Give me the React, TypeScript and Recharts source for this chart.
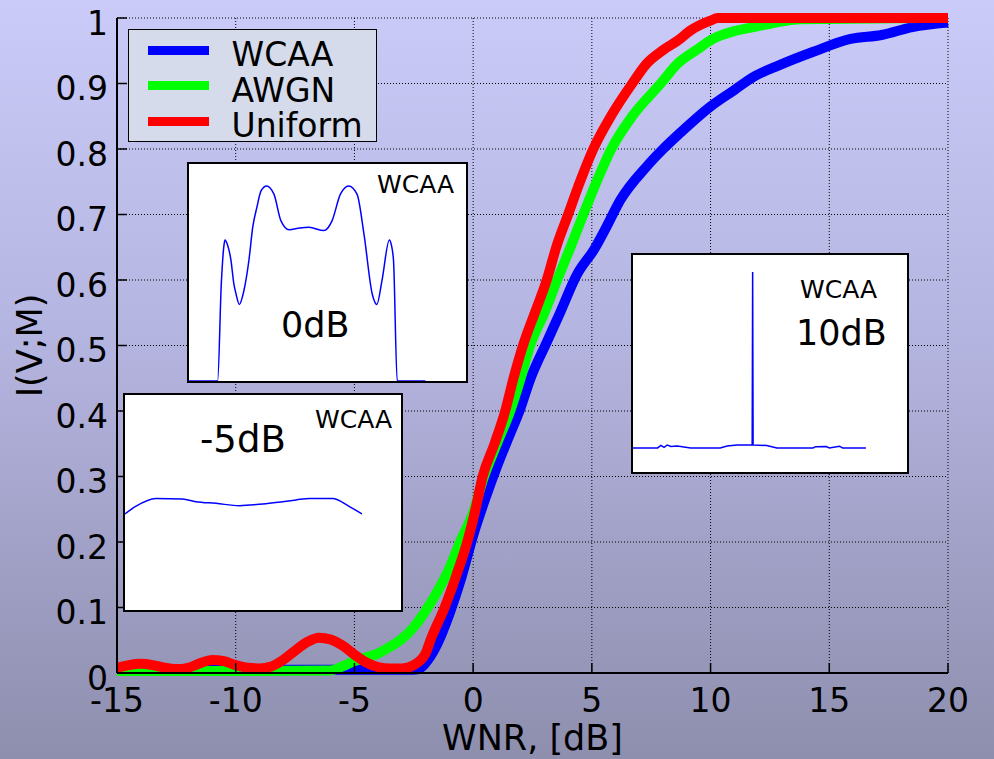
import { LineChart, Line, XAxis, YAxis, CartesianGrid } from "recharts";

const X_TICKS = [-15, -10, -5, 0, 5, 10, 15, 20];
const Y_TICKS = [0, 0.1, 0.2, 0.3, 0.4, 0.5, 0.6, 0.7, 0.8, 0.9, 1];

const WCAA_X = [-15, -14.5, -14, -13.5, -13, -12, -11.5, -11, -10.5, -10, -9, -5, -2.5, -2.2, -1.9, -1.5, -1, -0.5, 0, 0.5, 1, 1.5, 2, 2.4, 3.1, 3.6, 4.4, 5.1, 5.6, 6.2, 7.3, 8, 8.7, 10, 11, 11.8, 12.9, 14.3, 15.9, 17.2, 18.5, 20];
const WCAA_Y = [0.004, 0.006, 0.008, 0.006, 0.004, 0.004, 0.008, 0.012, 0.009, 0.005, 0.005, 0.005, 0.005, 0.008, 0.02, 0.045, 0.09, 0.145, 0.21, 0.265, 0.315, 0.36, 0.405, 0.448, 0.505, 0.545, 0.61, 0.647, 0.68, 0.722, 0.773, 0.8, 0.824, 0.865, 0.89, 0.91, 0.928, 0.948, 0.968, 0.974, 0.986, 0.993];

const AWGN_X = [-15, -10, -6, -5.5, -5, -4.5, -4, -3.5, -3, -2.5, -2, -1.5, -1, -0.55, 0, 0.42, 1, 1.56, 2, 2.4, 3, 3.54, 4.1, 4.64, 5.2, 5.82, 6.7, 7.9, 8.6, 9.44, 10.1, 11, 11.8, 12.6, 13.8, 20];
const AWGN_Y = [0.003, 0.003, 0.004, 0.01, 0.018, 0.024, 0.03, 0.04, 0.052, 0.07, 0.095, 0.125, 0.16, 0.2, 0.245, 0.296, 0.35, 0.4, 0.45, 0.5, 0.55, 0.6, 0.65, 0.7, 0.75, 0.8, 0.85, 0.9, 0.93, 0.952, 0.968, 0.98, 0.986, 0.992, 0.998, 1];

const UNIFORM_X = [-15, -14.5, -14, -13.5, -13, -12.5, -12, -11.5, -11, -10.5, -10, -9.5, -9, -8.5, -8, -7.5, -7, -6.5, -6, -5.5, -5, -4.5, -4, -3.5, -3, -2.5, -2, -1.8, -1.2, -0.7, -0.25, 0.1, 0.4, 0.9, 1.35, 1.7, 2.1, 2.6, 3.1, 3.5, 4, 4.5, 5.06, 5.8, 6.7, 7.3, 8, 8.6, 9.2, 10, 10.3, 20];
const UNIFORM_Y = [0.008, 0.012, 0.014, 0.012, 0.008, 0.006, 0.008, 0.015, 0.02, 0.018, 0.012, 0.008, 0.007, 0.01, 0.02, 0.034, 0.047, 0.054, 0.051, 0.042, 0.028, 0.016, 0.009, 0.007, 0.007, 0.012, 0.03, 0.05, 0.1, 0.15, 0.2, 0.25, 0.3, 0.35, 0.4, 0.45, 0.5, 0.55, 0.6, 0.65, 0.7, 0.75, 0.8, 0.85, 0.9, 0.93, 0.951, 0.965, 0.982, 0.996, 1, 1];

// inset curves (arbitrary inset units)
const INSET_X_TICKS = [1, 2, 3, 4, 5];

const PDF0_X = [0, 0.62, 0.7, 0.76, 0.78, 0.83, 0.91, 0.97, 1.02, 1.09, 1.19, 1.3, 1.38, 1.47, 1.56, 1.68, 1.84, 1.99, 2.17, 2.4, 2.6, 2.92, 3.1, 3.28, 3.46, 3.64, 3.79, 3.97, 4.07, 4.18, 4.34, 4.38, 4.43, 4.51, 5.12];
const PDF0_Y = [0, 0, 0.45, 0.63, 0.65, 0.63, 0.555, 0.45, 0.4, 0.353, 0.417, 0.56, 0.708, 0.8, 0.876, 0.899, 0.861, 0.739, 0.697, 0.705, 0.708, 0.693, 0.739, 0.861, 0.899, 0.861, 0.677, 0.4, 0.353, 0.463, 0.65, 0.63, 0.555, 0, 0];

const PDFM5_X = [0, 0.24, 0.67, 1.25, 1.54, 1.98, 2.49, 2.7, 3, 3.43, 3.72, 4.01, 4.51, 4.88, 5.15];
const PDFM5_Y = [0.447, 0.483, 0.519, 0.516, 0.504, 0.496, 0.485, 0.488, 0.493, 0.504, 0.512, 0.519, 0.519, 0.481, 0.447];

const PDF10_X = [0, 0.54, 0.61, 0.68, 0.75, 0.83, 0.97, 1.26, 1.91, 2.06, 2.28, 2.57, 2.61, 2.62, 2.63, 2.64, 2.93, 3.15, 3.94, 4, 4.23, 4.3, 4.52, 4.59, 5.1];
const PDF10_Y = [1, 1, 1.1, 1.02, 1.12, 1.06, 1.08, 1, 1, 1.08, 1.12, 1.12, 1.12, 8.3, 1.12, 1.12, 1.1, 1, 1, 1.05, 1.06, 1, 1.07, 1, 1];

const zip = (xs: number[], ys: number[]) => xs.map((x, i) => ({ x, y: ys[i] }));

const SERIES = [
  { name: "WCAA", color: "#0000ff", data: zip(WCAA_X, WCAA_Y) },
  { name: "AWGN", color: "#00ff00", data: zip(AWGN_X, AWGN_Y) },
  { name: "Uniform", color: "#ff0000", data: zip(UNIFORM_X, UNIFORM_Y) },
];

const FONT = "'DejaVu Sans', sans-serif";

const XTick = ({ x, y, payload }: any) => (
  <text x={x} y={y} dy="0.71em" textAnchor="middle" fontSize={33} fill="#000">{payload.value}</text>
);
const YTick = ({ x, y, payload }: any) => (
  <text x={x} y={y + 5} dy="0.355em" textAnchor="end" fontSize={33} fill="#000">{payload.value}</text>
);
const NoTick = () => <g />;

const YLabel = (props: any) => {
  const vb = props.viewBox || {};
  const cx = (vb.x || 0) + 30;
  const cy = (vb.y || 0) + (vb.height || 0) / 2;
  return (
    <text x={cx} y={cy} dy="0.355em" transform={`rotate(-90, ${cx}, ${cy})`} textAnchor="middle" fontSize={35} fill="#000">
      I(V;M)
    </text>
  );
};

function Inset({ left, top, w, h, data, yMax, yTicks, type }: any) {
  const iw = w - 4;
  const ih = h - 4;
  const tl = { stroke: "#000", strokeWidth: 1 };
  return (
    <div style={{ position: "absolute", left, top, width: w, height: h, background: "#fff", border: "2px solid #000", boxSizing: "border-box" }}>
      <LineChart width={iw} height={ih} margin={{ top: 0, right: 0, bottom: 0, left: 0 }}>
        <XAxis xAxisId="b" dataKey="x" type="number" domain={[0, 6]} ticks={INSET_X_TICKS} orientation="bottom" height={0} tickSize={-5} tick={NoTick} axisLine={false} tickLine={tl} />
        <XAxis xAxisId="t" dataKey="x" type="number" domain={[0, 6]} ticks={INSET_X_TICKS} orientation="top" height={0} tickSize={-5} tick={NoTick} axisLine={false} tickLine={tl} />
        <YAxis yAxisId="l" type="number" domain={[0, yMax]} ticks={yTicks} width={0} tickSize={-5} tick={NoTick} axisLine={false} tickLine={tl} />
        <YAxis yAxisId="r" type="number" domain={[0, yMax]} ticks={yTicks} orientation="right" width={0} tickSize={-5} tick={NoTick} axisLine={false} tickLine={tl} />
        <Line xAxisId="b" yAxisId="l" data={data} dataKey="y" type={type} stroke="#0000ff" strokeWidth={1.5} dot={false} isAnimationActive={false} />
      </LineChart>
    </div>
  );
}

const txt = (left: number, top: number, size: number): React.CSSProperties => ({
  position: "absolute", left, top, fontSize: size, lineHeight: 1, color: "#000", whiteSpace: "nowrap",
});

export default function App() {
  return (
    <div style={{ position: "fixed", left: 0, top: 0, width: 994, height: 759, fontFamily: FONT, background: "linear-gradient(to bottom, #cbcbf9 0%, #b4b4e0 45%, #8e8eae 100%)", overflow: "hidden" }}>
      <LineChart width={994} height={759} margin={{ top: 18, right: 46, bottom: 0, left: 0 }} style={{ fontFamily: FONT }}>
        <CartesianGrid stroke="#000" strokeDasharray="1 2" strokeWidth={1} />
        <XAxis dataKey="x" type="number" domain={[-15, 20]} ticks={X_TICKS} height={86} tickSize={-10} tickMargin={26} tick={XTick}
          axisLine={{ stroke: "#000", strokeWidth: 2 }} tickLine={{ stroke: "#000", strokeWidth: 1.5 }}
          label={{ value: "WNR, [dB]", position: "insideBottom", offset: 9, fontSize: 35, fill: "#000" }} />
        <XAxis xAxisId="top" dataKey="x" type="number" domain={[-15, 20]} ticks={X_TICKS} orientation="top" height={0} tickSize={-10} tick={NoTick}
          axisLine={{ stroke: "#000", strokeWidth: 2 }} tickLine={{ stroke: "#000", strokeWidth: 1.5 }} />
        <YAxis type="number" domain={[0, 1]} ticks={Y_TICKS} width={117} tickSize={-10} tickMargin={19} tick={YTick}
          axisLine={{ stroke: "#000", strokeWidth: 2 }} tickLine={{ stroke: "#000", strokeWidth: 1.5 }} label={YLabel} />
        <YAxis yAxisId="right" type="number" domain={[0, 1]} ticks={Y_TICKS} orientation="right" width={0} tickSize={-10} tick={NoTick}
          axisLine={{ stroke: "#000", strokeWidth: 2 }} tickLine={{ stroke: "#000", strokeWidth: 1.5 }} />
        {SERIES.map((s) => (
          <Line key={s.name} data={s.data} dataKey="y" name={s.name} type="monotone" stroke={s.color} strokeWidth={10}
            strokeLinejoin="round" dot={false} isAnimationActive={false} />
        ))}
      </LineChart>

      <div style={{ position: "absolute", left: 128, top: 29, width: 249, height: 113, background: "#d5dbea", border: "1.5px solid #000", boxSizing: "border-box" }}>
        {SERIES.map((s, i) => {
          const c = 50.75 + i * 35.5 - 29 - 1.5;
          return (
            <div key={s.name}>
              <div style={{ position: "absolute", left: 18.5, top: c - 4.5, width: 61, height: 9, background: s.color }} />
              <span style={txt(102.5, c - 12, 33)}>{s.name}</span>
            </div>
          );
        })}
      </div>

      <Inset left={187} top={162} w={281} h={221} data={zip(PDF0_X, PDF0_Y)} yMax={1} yTicks={[0.5]} type="monotone" />
      <Inset left={123} top={393} w={280} h={219} data={zip(PDFM5_X, PDFM5_Y)} yMax={1} yTicks={[0.1, 0.2, 0.3, 0.4, 0.5, 0.6, 0.7, 0.8, 0.9]} type="monotone" />
      <Inset left={631} top={253} w={278} h={221} data={zip(PDF10_X, PDF10_Y)} yMax={9} yTicks={[1, 2, 3, 4, 5, 6, 7, 8]} type="linear" />

      <span style={txt(377, 172, 25)}>WCAA</span>
      <span style={txt(281, 308, 35)}>0dB</span>
      <span style={txt(315, 407, 25)}>WCAA</span>
      <span style={txt(200, 421, 37)}>-5dB</span>
      <span style={txt(800, 277, 25)}>WCAA</span>
      <span style={txt(796, 316, 35)}>10dB</span>
    </div>
  );
}
